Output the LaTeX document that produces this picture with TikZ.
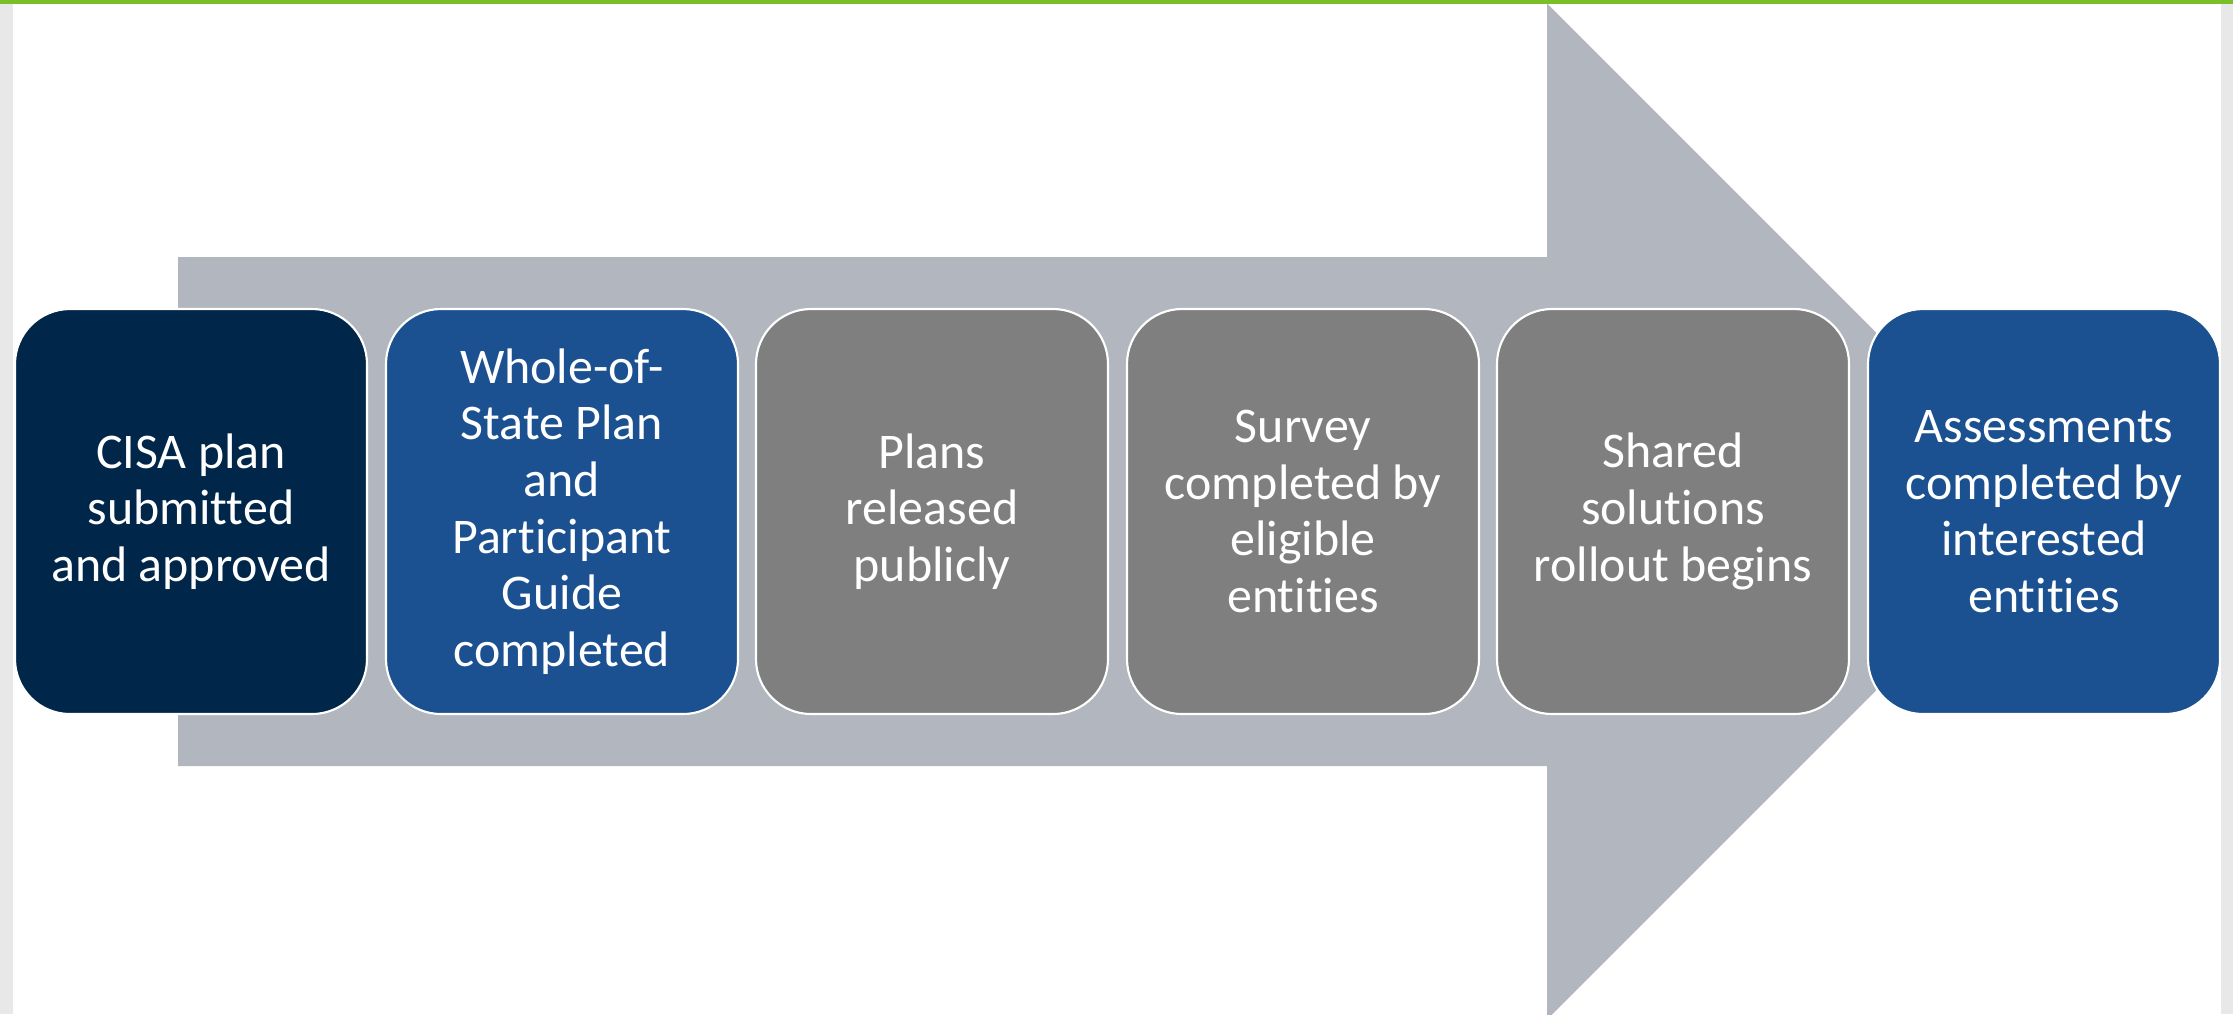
\documentclass[tikz,border=0pt]{standalone}
\usepackage{fontspec}
\setmainfont{Carlito}[Ligatures=NoCommon]
\definecolor{navy}{RGB}{0,38,73}
\definecolor{stateblue}{RGB}{27,81,144}
\definecolor{stepgray}{RGB}{127,127,127}
\definecolor{arrowgray}{RGB}{178,183,191}
\definecolor{pagegray}{RGB}{232,232,232}
\definecolor{topgreen}{RGB}{122,190,40}
\begin{document}
\begin{tikzpicture}[x=0.1mm,y=-0.1mm,
  stage/.style={rounded corners=5.5mm, draw=white, line width=0.6pt,
    minimum width=35.2mm, minimum height=40.5mm, align=center,
    text=white, font=\fontsize{14.2}{16.1}\selectfont}]
\useasboundingbox (0,0) rectangle (2233,1014);
\fill[white] (0,0) rectangle (2233,1014);
\fill[pagegray] (0,0) rectangle (13,1014);
\fill[pagegray] (2221,0) rectangle (2233,1014);
\fill[topgreen] (0,0) rectangle (2233,3.5);
% big arrow behind the steps
\fill[arrowgray] (178,257) -- (1547,257) -- (1547,3.5) -- (2055,511.5)
  -- (1547,1019.5) -- (1547,766) -- (178,766) -- cycle;
\node[stage, fill=navy] (plan) at (191,511.5) {CISA plan\\submitted\\and approved};
\node[stage, fill=stateblue] (guide) at (562,511.5) {Whole-of-\\State Plan\\and\\Participant\\Guide\\completed};
\node[stage, fill=stepgray] (release) at (932,511.5) {Plans\\released\\publicly};
\node[stage, fill=stepgray] (survey) at (1303,511.5) {Survey\\completed by\\eligible\\entities};
\node[stage, fill=stepgray] (rollout) at (1673,511.5) {Shared\\solutions\\rollout begins};
\node[stage, fill=stateblue] (assess) at (2044,511.5) {Assessments\\completed by\\interested\\entities};
\end{tikzpicture}
\end{document}
